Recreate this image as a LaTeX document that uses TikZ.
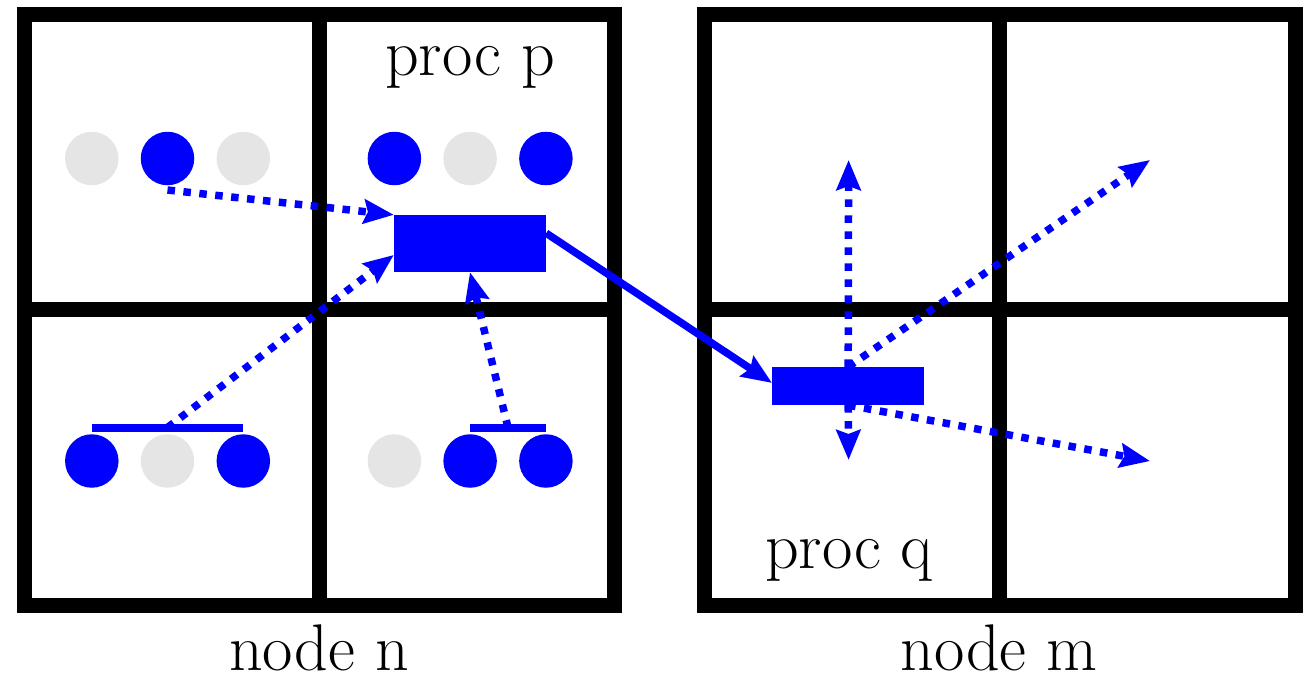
\documentclass[tikz,border=0pt]{standalone}
\usetikzlibrary{arrows.meta,calc}
\begin{document}
\begin{tikzpicture}[x=1pt,y=-1pt,
  grid/.style={line width=15pt, line join=miter, black},
  dotln/.style={blue, line width=7.5pt, dash pattern=on 7.5pt off 8.5pt},
  solidln/.style={blue, line width=7.5pt},
  tip/.style={-{Stealth[length=30pt,width=24pt,inset=4pt]}},
  ball/.style={circle, minimum size=53.5pt, inner sep=0pt, draw=none},
  bluedot/.style={ball, fill=blue},
  graydot/.style={ball, fill=gray!20},
  blk/.style={rectangle, fill=blue, inner sep=0pt, draw=none},
  bar/.style={rectangle, fill=blue, inner sep=0pt, minimum height=8pt, draw=none},
  lbl/.style={font=\fontsize{66}{79}\selectfont, anchor=base, inner sep=0pt, text depth=0pt}]
\useasboundingbox (0,0) rectangle (1307,677);

% left grid (node n)
\draw[grid] (24,14.5) rectangle (614,605);
\draw[grid] (319,14.5) -- (319,605);
\draw[grid] (24,309.5) -- (614,309.5);
% right grid (node m)
\draw[grid] (704,14.5) rectangle (1295,605);
\draw[grid] (999.5,14.5) -- (999.5,605);
\draw[grid] (704,309.5) -- (1295,309.5);

% circles row 1
\node[graydot] (c11) at (91.8,158.5) {};
\node[bluedot] (c12) at (167.5,158.5) {};
\node[graydot] (c13) at (243.3,158.5) {};
\node[bluedot] (c14) at (394.4,158.5) {};
\node[graydot] (c15) at (470.1,158.5) {};
\node[bluedot] (c16) at (545.9,158.5) {};
% circles row 2
\node[bluedot] (c21) at (91.8,461) {};
\node[graydot] (c22) at (167.5,461) {};
\node[bluedot] (c23) at (243.3,461) {};
\node[graydot] (c24) at (394.4,461) {};
\node[bluedot] (c25) at (470.1,461) {};
\node[bluedot] (c26) at (545.9,461) {};

% bars
\node[bar, minimum width=151.5pt] (barL) at (167.5,427.5) {};
\node[bar, minimum width=76pt] (barR) at (508,427.5) {};

% processes
\node[blk, minimum width=152pt, minimum height=57pt] (p) at (470,243.5) {};
\node[blk, minimum width=152pt, minimum height=38pt] (q) at (848.2,386) {};

% labels
\node[lbl] (lp) at (470,76) {proc p};
\node[lbl] (lq) at (849,568) {proc q};
\node[lbl] (ln) at (319,670) {node n};
\node[lbl] (lm) at (999,670) {node m};

% arrows into p
\coordinate (a1) at (167.5,190);
\draw[dotln,tip] (a1) -- (p.north west);
\draw[dotln,tip] (barL.center) -- ($(p.north west)!0.7!(p.south west)$);
\draw[dotln,tip] (barR.center) -- (p.south);

% p to q
\draw[solidln,tip] ($(p.north east)!0.32!(p.south east)$) -- ($(q.north west)!0.42!(q.south west)$);

% arrows out of q
\coordinate (t1) at (848.6,160);
\coordinate (t2) at (848.6,460);
\coordinate (t3) at (1150,160);
\coordinate (t4) at (1150,461);
\draw[dotln,tip] (q.north) -- (t1);
\draw[dotln,tip] (q.south) -- (t2);
\draw[dotln,tip] (q.north) -- (t3);
\draw[dotln,tip] (q.south) -- (t4);
\end{tikzpicture}
\end{document}
